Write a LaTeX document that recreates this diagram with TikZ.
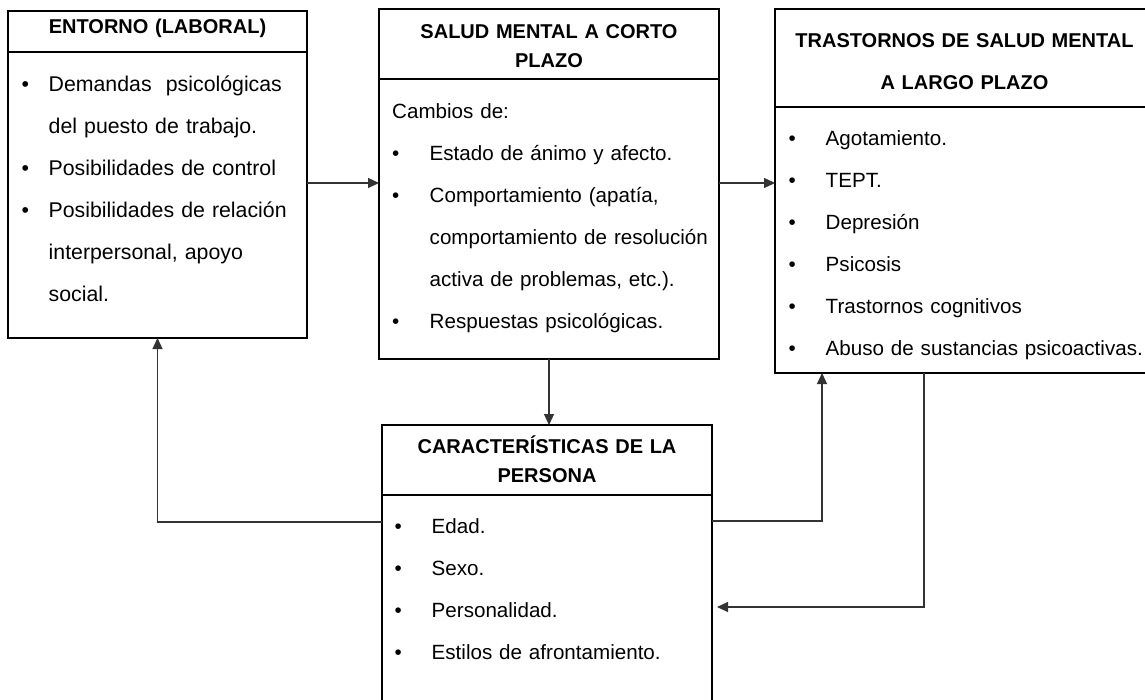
\documentclass[tikz,border=0pt]{standalone}
\usepackage{fontspec}
\setmainfont{Liberation Sans}
\usetikzlibrary{positioning,arrows.meta}
\tikzset{>={Triangle[length=11pt,width=10pt]}}
\tikzset{
  caja/.style={draw, line width=1.8pt, inner sep=0pt, outer sep=0pt, anchor=north west},
  titulo/.style={font=\bfseries\fontsize{20}{29}\selectfont, align=center, text width=#1, inner sep=0pt, anchor=north},
  texto/.style={font=\fontsize{20.6}{42}\selectfont, align=left, text width=#1, inner sep=0pt, anchor=north west},
  flecha/.style={->, draw=black!80, line width=1.2pt}
}
\newcommand{\bul}[1]{\makebox[#1][l]{•}}

\begin{document}
\begin{tikzpicture}[x=1pt, y=-1pt]
    \useasboundingbox (0,0) rectangle (1145,700);
    \clip (0,0) rectangle (1145,700);
    % cajas
    \node[caja, minimum width=299pt, minimum height=41pt] (entH) at (8,11) {};
    \node[caja, minimum width=299pt, minimum height=286pt] (entB) at (entH.south west) {};
    \node[caja, minimum width=340pt, minimum height=70pt] (salH) at (379,9) {};
    \node[caja, minimum width=340pt, minimum height=280pt] (salB) at (salH.south west) {};
    \node[caja, minimum width=379pt, minimum height=98pt] (trsH) at (775,9) {};
    \node[caja, minimum width=379pt, minimum height=266pt] (trsB) at (trsH.south west) {};
    \node[caja, minimum width=330pt, minimum height=70pt] (carH) at (382,425) {};
    \node[caja, minimum width=330pt, minimum height=240pt] (carB) at (carH.south west) {};
    % titulos
    \node[titulo=299pt] (entT) at ([yshift=-1.7pt]entH.north) {\strut ENTORNO (LABORAL)};
    \node[titulo=340pt] (salT) at ([yshift=-8.7pt]salH.north) {\strut SALUD MENTAL A CORTO\\PLAZO};
    \node[titulo=379pt, font=\bfseries\fontsize{20}{42}\selectfont] (trsT) at ([yshift=-8.6pt]trsH.north)
      {\strut TRASTORNOS DE SALUD MENTAL\\A LARGO PLAZO};
    \node[titulo=330pt] (carT) at ([yshift=-7.7pt]carH.north) {\strut CARACTERÍSTICAS DE LA\\PERSONA};
    % textos
    \node[texto=285pt, font=\fontsize{21.3}{42}\selectfont] (entTx) at ([xshift=13.5pt,yshift=-9.6pt]entB.north west) {%
      \strut\bul{27pt}Demandas\ \ psicológicas\\
      \hspace*{27pt}del puesto de trabajo.\\
      \bul{27pt}Posibilidades de control\\
      \bul{27pt}Posibilidades de relación\\
      \hspace*{27pt}interpersonal, apoyo\\
      \hspace*{27pt}social.};
    \node[texto=325pt] (salTx) at ([xshift=13pt,yshift=-9.6pt]salB.north west) {%
      \strut Cambios de:\\
      \bul{37.5pt}Estado de ánimo y afecto.\\
      \bul{37.5pt}Comportamiento (apatía,\\
      \hspace*{37.5pt}comportamiento de resolución\\
      \hspace*{37.5pt}activa de problemas, etc.).\\
      \bul{37.5pt}Respuestas psicológicas.};
    \node[texto=360pt] (trsTx) at ([xshift=13.5pt,yshift=-8.6pt]trsB.north west) {%
      \strut\bul{37pt}Agotamiento.\\
      \bul{37pt}TEPT.\\
      \bul{37pt}Depresión\\
      \bul{37pt}Psicosis\\
      \bul{37pt}Trastornos cognitivos\\
      \bul{37pt}Abuso de sustancias psicoactivas.};
    \node[texto=300pt] (carTx) at ([xshift=12.5pt,yshift=-8.6pt]carB.north west) {%
      \strut\bul{37pt}Edad.\\
      \bul{37pt}Sexo.\\
      \bul{37pt}Personalidad.\\
      \bul{37pt}Estilos de afrontamiento.};
    % flechas
    \coordinate (a1) at ([yshift=12pt]entB.east);
    \coordinate (a2) at ([yshift=36pt]salB.east);
    \coordinate (a4) at ([yshift=-27pt]carB.north west);
    \coordinate (a5) at ([yshift=-26pt]carB.north east);
    \coordinate (a6) at ([xshift=149pt]trsB.south west);
    \draw[flecha] (a1) -- (a1 -| salB.west);
    \draw[flecha] (a2) -- (a2 -| trsB.west);
    \draw[flecha] (salB.south) -- (salB.south |- carH.north);
    \draw[flecha] (a4) -| (entB.south);
    \draw[flecha] (a5) -| ([xshift=47pt]trsB.south west);
    \draw[flecha, shorten >=5pt] (a6) |- ([yshift=-112pt]carB.north east);
\end{tikzpicture}
\end{document}
